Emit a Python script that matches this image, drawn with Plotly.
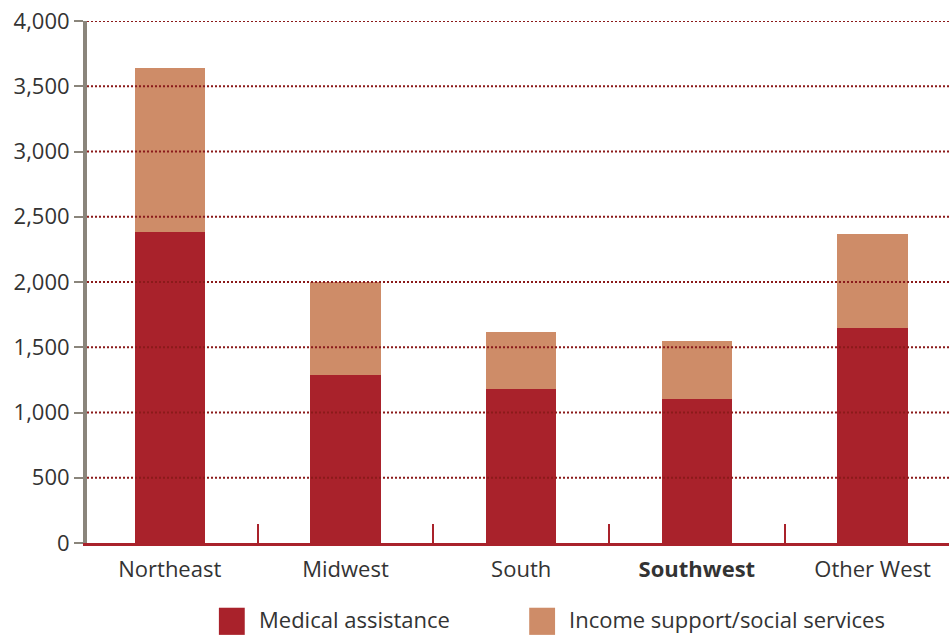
import plotly.graph_objects as go

# Regional spending per capita, by component
regions = ["Northeast", "Midwest", "South", "Southwest", "Other West"]
region_labels = ["Northeast", "Midwest", "South", "<b>Southwest</b>", "Other West"]
medical = [2380, 1290, 1180, 1100, 1650]
income_support = [1260, 710, 435, 450, 715]
series_names = ["Medical assistance", "Income support/social services"]

y_ticks = [0, 500, 1000, 1500, 2000, 2500, 3000, 3500, 4000]
y_tick_text = [f"{v:,}" for v in y_ticks]

RED = "#A9222B"
TAN = "#CE8C68"
GRID = "#8B1A1A"
AXIS_GREY = "#8A857B"
TEXT = "#333333"
FONT = "Open Sans"

fig = go.Figure()
fig.add_trace(go.Bar(x=regions, y=medical, name=series_names[0],
                     marker=dict(color=RED, line=dict(width=0)), width=0.4))
fig.add_trace(go.Bar(x=regions, y=income_support, name=series_names[1],
                     marker=dict(color=TAN, line=dict(width=0)), width=0.4))

# dotted gridlines drawn on top of the bars
shapes = []
for v in y_ticks[1:]:
    shapes.append(dict(type="line", xref="paper", yref="y", x0=0, x1=1, y0=v, y1=v,
                       line=dict(color=GRID, width=2, dash="2px,2px"), layer="above"))

# legend swatches and labels
annotations = []
legend_items = [(series_names[0], RED, 0.153), (series_names[1], TAN, 0.513)]
for name, color, x0 in legend_items:
    shapes.append(dict(type="rect", xref="paper", yref="paper",
                       x0=x0, x1=x0 + 0.030, y0=-0.176, y1=-0.124,
                       fillcolor=color, line=dict(width=0), layer="above"))
    annotations.append(dict(xref="paper", yref="paper", x=x0 + 0.044, y=-0.146,
                            text=name, showarrow=False, xanchor="left", yanchor="middle",
                            font=dict(family=FONT, size=22, color=TEXT)))

fig.update_layout(
    barmode="stack",
    width=949, height=635,
    margin=dict(l=87, r=0, t=21, b=92),
    paper_bgcolor="white", plot_bgcolor="white",
    showlegend=False,
    shapes=shapes,
    annotations=annotations,
    font=dict(family=FONT, size=22, color=TEXT),
    xaxis=dict(
        type="category",
        range=[-0.471, 4.435],
        tickvals=regions, ticktext=region_labels,
        tickson="boundaries",
        ticks="inside", ticklen=19, tickwidth=2, tickcolor=RED,
        ticklabelstandoff=5,
        showline=True, linecolor=RED, linewidth=3,
        showgrid=False, zeroline=False,
        tickfont=dict(family=FONT, size=22, color=TEXT),
    ),
    yaxis=dict(
        range=[0, 4000],
        tickvals=y_ticks, ticktext=y_tick_text,
        ticks="outside", ticklen=9, tickwidth=2, tickcolor=AXIS_GREY,
        showline=True, linecolor=AXIS_GREY, linewidth=4,
        showgrid=False, zeroline=False,
        tickfont=dict(family=FONT, size=22, color=TEXT),
    ),
)

fig.write_html("out.html")
